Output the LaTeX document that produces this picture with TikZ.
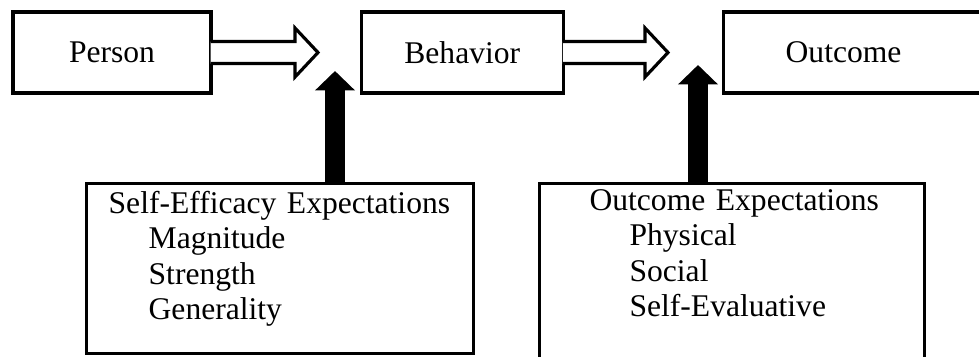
\documentclass[tikz,border=0pt]{standalone}
\usepackage{fontspec}
\setmainfont{Liberation Serif}
\usetikzlibrary{positioning,arrows.meta,calc}
\tikzset{
  box/.style={draw, line width=1.2pt, font=\fontsize{12}{13.4}\selectfont,
              inner sep=0pt, minimum height=30.8pt},
  expbox/.style={draw, line width=1.2pt, font=\fontsize{12}{13.4}\selectfont,
                 align=left, inner ysep=0pt, anchor=north west},
  hollow/.style={draw, fill=white, line width=1.2pt},
  push/.style={line width=7.6pt, -{Triangle[length=7.4pt, width=14.8pt]}},
}
% open double-line arrow from a box to a meeting point
\newcommand{\hollowarrow}[2]{%
  \path[hollow] ($(#1.east)+(-2,-11)$) -- ($(#2)+(-23,-11)$) -- ($(#2)+(-23,-24.5)$)
    -- (#2) -- ($(#2)+(-23,24.5)$) -- ($(#2)+(-23,11)$) -- ($(#1.east)+(-2,11)$);}
\newcommand{\ind}{\hspace*{15.2pt}}

\begin{document}
\begin{tikzpicture}[x=0.38pt, y=-0.38pt]
  \useasboundingbox (0,0) rectangle (979,356);
  \node[box, minimum width=75.2pt] (person) at (112,52.5) {Person};
  \node[box, minimum width=76.8pt, right=55.9pt of person] (behavior) {Behavior};
  \node[box, inner xsep=23.6pt, text width=60.4pt, align=left, right=59.7pt of behavior] (outcome) {Outcome};
  \node[expbox, inner xsep=8.4pt, text width=130.3pt, text height=11.4pt, text depth=53.2pt] (selfeff) at (85,182)
    {\mbox{Self-Efficacy Expectations}\\ \ind Magnitude\\ \ind Strength\\ \ind Generality};
  \node[expbox, inner xsep=19pt, text width=108.3pt, text height=10.3pt, text depth=56.2pt] (outexp) at (538,182)
    {\mbox{Outcome Expectations}\\ \ind Physical\\ \ind Social\\ \ind Self-Evaluative};
  \coordinate (meet1) at (318,52.5);
  \coordinate (meet2) at (668,52.5);
  \coordinate (up1) at (335,71);
  \coordinate (up2) at (698,65);
  \hollowarrow{person}{meet1}
  \hollowarrow{behavior}{meet2}
  \draw[push] (up1 |- selfeff.north) -- (up1);
  \draw[push] (up2 |- outexp.north) -- (up2);
\end{tikzpicture}
\end{document}
